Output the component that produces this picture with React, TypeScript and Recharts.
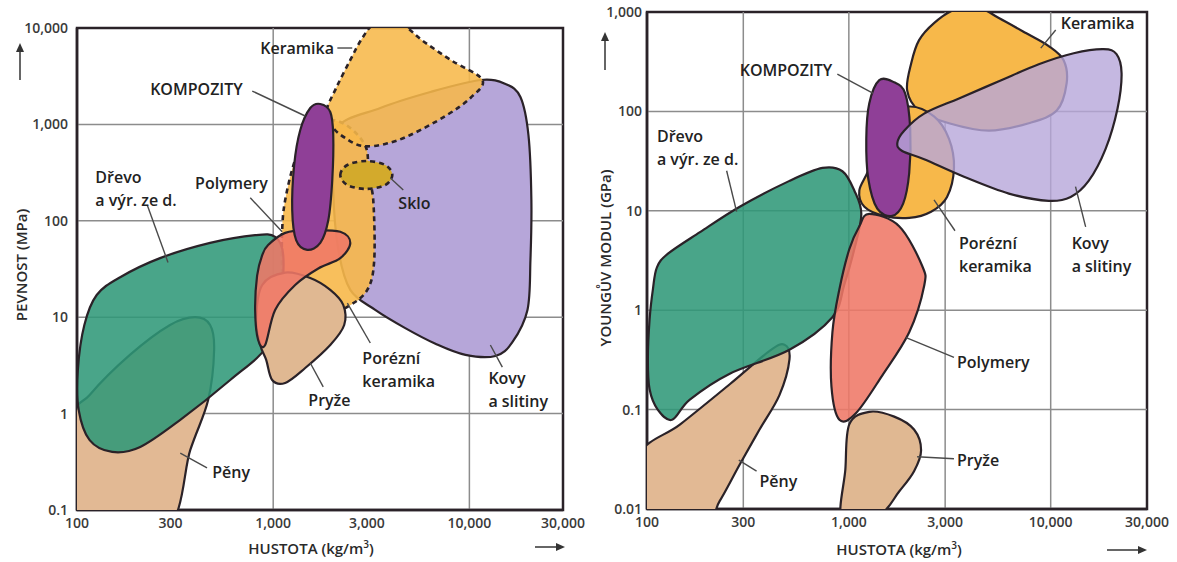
import React from "react";
import { ReferenceArea, ReferenceLine, Scatter, ScatterChart, XAxis, YAxis } from "recharts";

// ---- axes ----
const densityTicks = [100, 300, 1000, 3000, 10000, 30000];
const strengthTicks = [0.1, 1, 10, 100, 1000, 10000];
const modulusTicks = [0.01, 0.1, 1, 10, 100, 1000];

const strengthGridY = [1, 10, 100, 1000];
const strengthGridX = [1000, 10000];
const modulusGridY = [0.1, 1, 10, 100];
const modulusGridX = [300, 1000, 3000, 10000];

// ---- left chart: density (kg/m3) vs strength (MPa), outline points ----
const strengthPeny = [[97, 0.06], [97, 0.86], [116, 1.56], [186, 4.06], [298, 8.3], [400, 10], [477, 8.3], [500, 4.57], [466, 1.38], [378, 0.42], [281, 0.062]];
const strengthDrevo = [[102, 1.09], [101, 2.83], [109, 8.3], [126, 17], [166, 26], [265, 41], [477, 59], [809, 71], [1023, 68], [1125, 44], [1086, 15], [942, 5.15], [604, 2.23], [336, 0.86], [210, 0.45], [151, 0.4], [116, 0.53]];
const strengthKovy = [[2070, 875], [3516, 1479], [6324, 2170], [11380, 2890], [15280, 2626], [18200, 1923], [20000, 776], [20700, 164], [20470, 39], [19770, 11.9], [16560, 5.5], [13580, 3.96], [9550, 4.06], [6714, 5.3], [4710, 7.7], [3311, 11.9], [2472, 19.2], [2148, 50], [2023, 209]];
const strengthKeramika = [[3311, 11010], [4446, 11010], [5888, 7160], [8185, 4550], [11650, 2890], [10120, 1879], [7551, 1222], [5000, 776], [3724, 627], [2846, 597], [2329, 722], [2000, 940], [1862, 1346], [2094, 2386], [2472, 4660], [2846, 7870]];
const strengthPorezni = [[1954, 1112], [2472, 918], [2979, 569], [3052, 299], [3236, 164], [3273, 39], [3017, 19.2], [2388, 12.8], [1738, 9.8], [1342, 11.3], [1151, 15.1], [1111, 31], [1111, 80], [1151, 164], [1294, 428], [1545, 875]];
const strengthSklo = [[2198, 299], [2388, 379], [2979, 417], [3724, 379], [4046, 299], [3724, 235], [2979, 214], [2388, 235]];
const strengthPryze = [[818, 9.4], [879, 21.6], [1151, 29], [1545, 25.5], [1954, 19.2], [2275, 13.4], [2301, 8.3], [1954, 5.15], [1456, 2.97], [1151, 2.08], [988, 2.23], [921, 3.6], [859, 5.15]];
const strengthPolymery = [[942, 56], [1151, 75], [1545, 80], [2198, 77], [2472, 59], [2198, 41], [1698, 32], [1294, 21.6], [1023, 11.9], [910, 5.15], [838, 5.8], [809, 11.9], [828, 27], [879, 44]];
const strengthKompozity = [[1738, 1629], [1954, 1346], [2023, 776], [2000, 265], [1910, 102], [1738, 59], [1490, 50], [1309, 63], [1250, 129], [1279, 379], [1374, 875], [1545, 1479]];

// ---- right chart: density (kg/m3) vs Young's modulus (GPa) ----
const modulusPeny = [[92, 0.035], [146, 0.071], [257, 0.18], [405, 0.39], [480, 0.45], [508, 0.32], [453, 0.14], [361, 0.063], [288, 0.028], [229, 0.012], [193, 0.0077], [92, 0.0077]];
const modulusDrevo = [[112, 2.7], [127, 3.7], [183, 6.1], [288, 11], [508, 20], [740, 27], [929, 25], [1064, 16], [1153, 9.3], [1064, 4.1], [951, 1.83], [829, 0.85], [508, 0.4], [257, 0.23], [163, 0.126], [133, 0.079], [113, 0.1], [103, 0.16], [101, 0.32], [103, 0.81], [107, 1.63]];
const modulusPryze = [[1005, 0.071], [1262, 0.095], [1678, 0.085], [2104, 0.063], [2280, 0.039], [2104, 0.024], [1775, 0.015], [1415, 0.0087], [929, 0.0077], [961, 0.025]];
const modulusPolymery = [[1262, 9.3], [1775, 7.0], [2307, 2.8], [2360, 1.75], [1991, 0.6], [1463, 0.22], [1089, 0.093], [898, 0.079], [820, 0.17], [829, 0.6], [898, 1.63], [1005, 4.1], [1127, 7.0]];
const modulusKeramika = [[2037, 305], [2228, 521], [2642, 774], [3318, 1047], [4406, 1097], [5536, 869], [7536, 614], [9779, 454], [11590, 327], [11995, 192], [10715, 102], [7787, 76], [4943, 64], [3135, 76], [2228, 102], [1945, 163]];
const modulusPorezni = [[1262, 27], [1496, 85], [1991, 112], [2642, 89], [3135, 53], [3318, 27], [3065, 13.8], [2555, 9.8], [1991, 8.5], [1496, 8.9], [1194, 11], [1127, 16]];
const modulusKompozity = [[1415, 206], [1678, 196], [1901, 152], [2014, 67], [1991, 24], [1858, 11.8], [1640, 8.9], [1383, 10.5], [1248, 21], [1220, 53], [1262, 120]];
const modulusKovy = [[1738, 48], [1879, 64], [2360, 95], [3513, 135], [5536, 201], [8725, 298], [13000, 385], [18280, 423], [21190, 377], [22450, 242], [21440, 107], [18710, 42], [15420, 20], [12560, 13.8], [9779, 12.6], [6205, 14.9], [3719, 22], [2360, 33], [1837, 40]];

// ---- annotations ----
const strengthLabels = [
  { x: 859, y: 6200, text: "Keramika" },
  { x: 236, y: 2330, text: "KOMPOZITY" },
  { x: 124, y: 285, text: "Dřevo\na výr. ze d." },
  { x: 400, y: 247, text: "Polymery" },
  { x: 4345, y: 153, text: "Sklo" },
  { x: 2846, y: 3.78, text: "Porézní\nkeramika" },
  { x: 1510, y: 1.38, text: "Pryže" },
  { x: 12500, y: 2.34, text: "Kovy\na slitiny" },
  { x: 489, y: 0.248, text: "Pěny" },
];
const strengthLeaders = [
  [[2123, 6200], [2529, 6200]],
  [[782, 2218], [1456, 1222]],
  [[228, 146], [291, 37]],
  [[764, 173], [1111, 77]],
  [[3955, 278], [4603, 209]],
  [[2388, 14], [3126, 5.4]],
  [[1545, 3.35], [1799, 1.89]],
  [[12790, 5.15], [14720, 3.04]],
  [[336, 0.39], [460, 0.273]],
];
const modulusLabels = [
  { x: 288, y: 259, text: "KOMPOZITY" },
  { x: 11207, y: 774, text: "Keramika" },
  { x: 112, y: 57, text: "Dřevo\na výr. ze d." },
  { x: 3513, y: 4.75, text: "Porézní\nkeramika" },
  { x: 12700, y: 4.75, text: "Kovy\na slitiny" },
  { x: 3435, y: 0.3, text: "Polymery" },
  { x: 3435, y: 0.031, text: "Pryže" },
  { x: 361, y: 0.0192, text: "Pěny" },
];
const modulusLeaders = [
  [[877, 237], [1321, 152]],
  [[10590, 658], [8930, 433]],
  [[248, 25.3], [278, 9.8]],
  [[3357, 6.3], [2642, 12.9]],
  [[14900, 6.9], [13270, 17.5]],
  [[1923, 0.53], [3318, 0.335]],
  [[2178, 0.0335], [3318, 0.032]],
  [[285, 0.031], [349, 0.024]],
];

const INK = "#2a2228";
const FONT = "'Open Sans', 'DejaVu Sans', sans-serif";

type Blob = { data: number[][]; fill: string; fillOpacity?: number; dashed?: boolean };

const strengthBlobs: Blob[] = [
  { data: strengthKovy, fill: "#b6a6d9" },
  { data: strengthPorezni, fill: "#f7b84a", fillOpacity: 0.9, dashed: true },
  { data: strengthKeramika, fill: "#f7b84a", fillOpacity: 0.88, dashed: true },
  { data: strengthSklo, fill: "#d3aa2c", dashed: true },
  { data: strengthPeny, fill: "#e2b994" },
  { data: strengthDrevo, fill: "#2e9878", fillOpacity: 0.87 },
  { data: strengthPryze, fill: "#e0b892" },
  { data: strengthPolymery, fill: "#ef7866", fillOpacity: 0.88 },
  { data: strengthKompozity, fill: "#8f3f97" },
];
const modulusBlobs: Blob[] = [
  { data: modulusPeny, fill: "#e2b994" },
  { data: modulusDrevo, fill: "#2e9878", fillOpacity: 0.87 },
  { data: modulusPryze, fill: "#e0b892" },
  { data: modulusPolymery, fill: "#ef7866", fillOpacity: 0.88 },
  { data: modulusKeramika, fill: "#f7b84a" },
  { data: modulusPorezni, fill: "#f7b84a" },
  { data: modulusKompozity, fill: "#8f3f97" },
  { data: modulusKovy, fill: "#b6a6d9", fillOpacity: 0.8 },
];

const toPoints = (list: number[][]) => list.map(([x, y]) => ({ x, y }));
const minorTicks = (decades: number[], max: number) =>
  decades.flatMap((d) => [2, 3, 4, 5, 6, 7, 8, 9].map((k) => +(k * d).toPrecision(3))).filter((v) => v < max);
const fmt = (v: number) => v.toLocaleString("en-US");

// closed Catmull-Rom curve that passes through every outline point
function smoothClosed(context: any) {
  let pts: number[][] = [];
  return {
    areaStart() {},
    areaEnd() {},
    lineStart() {
      pts = [];
    },
    lineEnd() {
      const n = pts.length;
      if (!n) return;
      context.moveTo(pts[0][0], pts[0][1]);
      for (let i = 0; i < n; i++) {
        const p0 = pts[(i - 1 + n) % n];
        const p1 = pts[i];
        const p2 = pts[(i + 1) % n];
        const p3 = pts[(i + 2) % n];
        context.bezierCurveTo(
          p1[0] + (p2[0] - p0[0]) / 6,
          p1[1] + (p2[1] - p0[1]) / 6,
          p2[0] - (p3[0] - p1[0]) / 6,
          p2[1] - (p3[1] - p1[1]) / 6,
          p2[0],
          p2[1]
        );
      }
      context.closePath();
    },
    point(x: number, y: number) {
      pts.push([+x, +y]);
    },
  };
}

const noShape = () => <g />;

function LabelShape(props: any) {
  const { cx, cy, payload } = props;
  const lines: string[] = payload.text.split("\n");
  return (
    <text x={cx} y={cy} fontFamily={FONT} fontSize={16} fontWeight={600} fill="#222" dominantBaseline="central">
      {lines.map((l, i) => (
        <tspan key={i} x={cx} dy={i === 0 ? 0 : 23}>
          {l}
        </tspan>
      ))}
    </text>
  );
}

type PanelProps = {
  width: number;
  height: number;
  margin: { top: number; right: number; bottom: number; left: number };
  yDomain: [number, number];
  yTicks: number[];
  yMinor: number[];
  yWidth: number;
  yTickMargin: number;
  xHeight: number;
  gridX: number[];
  gridY: number[];
  blobs: Blob[];
  labels: { x: number; y: number; text: string }[];
  leaders: number[][][];
};

const tickStyle = { fill: "#3a3a3a", fontSize: 14, fontWeight: 600, fontFamily: FONT };
const xMinor = minorTicks([100, 1000, 10000], 30000);

function Panel(p: PanelProps) {
  return (
    <ScatterChart width={p.width} height={p.height} margin={p.margin}>
      <XAxis
        type="number"
        dataKey="x"
        scale="log"
        domain={[100, 30000]}
        ticks={densityTicks}
        interval={0}
        allowDataOverflow
        height={p.xHeight}
        tickLine={false}
        tickSize={0}
        tickMargin={8}
        tick={tickStyle}
        tickFormatter={fmt}
        axisLine={{ stroke: INK, strokeWidth: 2.5 }}
      />
      <YAxis
        type="number"
        dataKey="y"
        scale="log"
        domain={p.yDomain}
        ticks={p.yTicks}
        interval={0}
        allowDataOverflow
        width={p.yWidth}
        tickLine={false}
        tickSize={0}
        tickMargin={p.yTickMargin}
        tick={tickStyle}
        tickFormatter={fmt}
        axisLine={{ stroke: INK, strokeWidth: 2.5 }}
      />
      <XAxis
        xAxisId="minor"
        type="number"
        dataKey="x"
        scale="log"
        domain={[100, 30000]}
        ticks={xMinor}
        interval={0}
        mirror
        height={1}
        tick={false}
        tickSize={5}
        tickLine={{ stroke: "#999" }}
        axisLine={false}
      />
      <YAxis
        yAxisId="minor"
        type="number"
        dataKey="y"
        scale="log"
        domain={p.yDomain}
        ticks={p.yMinor}
        interval={0}
        mirror
        width={1}
        tick={false}
        tickSize={6}
        tickLine={{ stroke: "#777" }}
        axisLine={false}
      />
      {p.gridY.map((v) => (
        <ReferenceLine key={"gy" + v} y={v} stroke="#8c8c8c" strokeWidth={1.5} />
      ))}
      {p.gridX.map((v) => (
        <ReferenceLine key={"gx" + v} x={v} stroke="#8c8c8c" strokeWidth={1.5} />
      ))}
      {p.blobs.map((b, i) => (
        <Scatter
          key={"b" + i}
          data={toPoints(b.data)}
          isAnimationActive={false}
          shape={noShape}
          lineType="joint"
          lineJointType={smoothClosed as any}
          line={{
            fill: b.fill,
            fillOpacity: b.fillOpacity ?? 1,
            stroke: INK,
            strokeWidth: b.dashed ? 2.6 : 2.2,
            strokeDasharray: b.dashed ? "5 4" : undefined,
            strokeLinejoin: "round",
          }}
        />
      ))}
      {p.leaders.map((l, i) => (
        <Scatter
          key={"l" + i}
          data={toPoints(l)}
          isAnimationActive={false}
          shape={noShape}
          lineType="joint"
          line={{ stroke: "#4a4a4a", strokeWidth: 1.4 }}
        />
      ))}
      <Scatter data={p.labels} isAnimationActive={false} shape={LabelShape} />
      <ReferenceArea
        x1={100}
        x2={30000}
        y1={p.yDomain[0]}
        y2={p.yDomain[1]}
        fill="none"
        stroke={INK}
        strokeWidth={2.5}
        ifOverflow="visible"
      />
    </ScatterChart>
  );
}

function UpArrow({ left, top, h }: { left: number; top: number; h: number }) {
  return (
    <svg style={{ position: "absolute", left: left - 5, top }} width={10} height={h}>
      <line x1={5} y1={8} x2={5} y2={h} stroke="#333" strokeWidth={1.5} />
      <polygon points={`5,0 1,9 9,9`} fill="#333" />
    </svg>
  );
}

function RightArrow({ left, top, w }: { left: number; top: number; w: number }) {
  return (
    <svg style={{ position: "absolute", left, top: top - 5 }} width={w} height={10}>
      <line x1={0} y1={5} x2={w - 8} y2={5} stroke="#333" strokeWidth={1.5} />
      <polygon points={`${w},5 ${w - 9},1 ${w - 9},9`} fill="#333" />
    </svg>
  );
}

const titleStyle: React.CSSProperties = {
  position: "absolute",
  fontFamily: FONT,
  fontSize: 15,
  fontWeight: 600,
  color: "#2a2a2a",
  whiteSpace: "nowrap",
  lineHeight: "18px",
};

function XTitle({ cx, cy }: { cx: number; cy: number }) {
  return (
    <div style={{ ...titleStyle, left: cx, top: cy - 9, transform: "translateX(-50%)" }}>
      HUSTOTA (kg/m<sup style={{ fontSize: 10, lineHeight: 0 }}>3</sup>)
    </div>
  );
}

function YTitle({ cx, cy, text }: { cx: number; cy: number; text: string }) {
  return (
    <div
      style={{
        ...titleStyle,
        left: cx,
        top: cy,
        transform: "translate(-50%, -50%) rotate(-90deg)",
      }}
    >
      {text}
    </div>
  );
}

export default function App() {
  return (
    <div style={{ position: "absolute", left: 0, top: 0, width: 1177, height: 562, background: "#fff", overflow: "hidden" }}>
      <div style={{ position: "absolute", left: 0, top: 0 }}>
        <Panel
          width={590}
          height={562}
          margin={{ top: 28, right: 27, bottom: 0, left: 0 }}
          yDomain={[0.1, 10000]}
          yTicks={strengthTicks}
          yMinor={minorTicks([0.1, 1, 10, 100, 1000], 10000)}
          yWidth={77}
          yTickMargin={9}
          xHeight={52}
          gridX={strengthGridX}
          gridY={strengthGridY}
          blobs={strengthBlobs}
          labels={strengthLabels}
          leaders={strengthLeaders}
        />
      </div>
      <div style={{ position: "absolute", left: 590, top: 0 }}>
        <Panel
          width={587}
          height={562}
          margin={{ top: 12, right: 30, bottom: 0, left: 0 }}
          yDomain={[0.01, 1000]}
          yTicks={modulusTicks}
          yMinor={minorTicks([0.01, 0.1, 1, 10, 100], 1000)}
          yWidth={57}
          yTickMargin={5}
          xHeight={53}
          gridX={modulusGridX}
          gridY={modulusGridY}
          blobs={modulusBlobs}
          labels={modulusLabels}
          leaders={modulusLeaders}
        />
      </div>
      <YTitle cx={21} cy={265} text="PEVNOST (MPa)" />
      <YTitle cx={605} cy={258} text="YOUNGŮV MODUL (GPa)" />
      <XTitle cx={311} cy={548} />
      <XTitle cx={899} cy={549} />
      <UpArrow left={20} top={43} h={37} />
      <UpArrow left={605} top={32} h={38} />
      <RightArrow left={535} top={547} w={30} />
      <RightArrow left={1107} top={550} w={40} />
    </div>
  );
}
